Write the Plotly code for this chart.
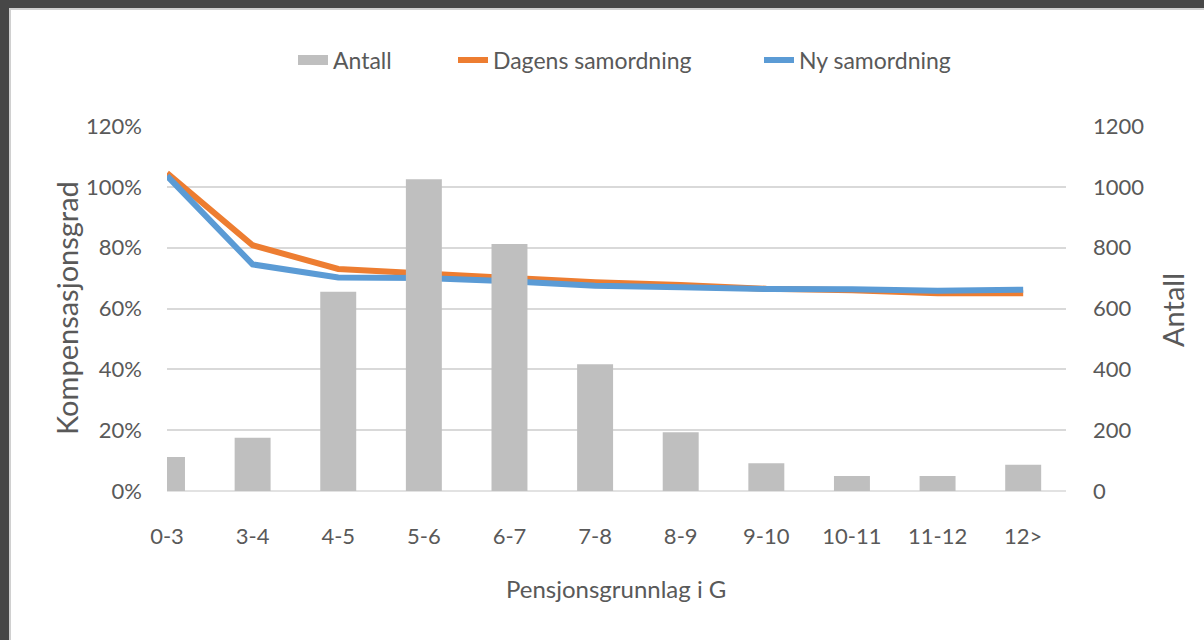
import plotly.graph_objects as go

categories = ["0-3", "3-4", "4-5", "5-6", "6-7", "7-8", "8-9", "9-10", "10-11", "11-12", "12>"]
antall = [112, 175, 655, 1025, 812, 417, 193, 91, 49, 49, 86]
dagens = [1.045, 0.808, 0.730, 0.716, 0.703, 0.686, 0.677, 0.665, 0.660, 0.650, 0.650]
ny = [1.036, 0.745, 0.702, 0.700, 0.690, 0.675, 0.670, 0.664, 0.663, 0.658, 0.662]
pct_ticks = [0, 0.2, 0.4, 0.6, 0.8, 1.0, 1.2]
pct_text = ["0%", "20%", "40%", "60%", "80%", "100%", "120%"]
cnt_ticks = [0, 200, 400, 600, 800, 1000, 1200]

W, H = 1204, 640
L, R, T, B = 167, 138, 126, 149
PW, PH = W - L - R, H - T - B

def px_x(p):
    return (p - L) / PW

def px_y(p):
    return (H - B - p) / PH

FONT = "Lato"
GREY = "#595959"
idx = list(range(len(categories)))

fig = go.Figure()
fig.add_trace(go.Bar(x=idx, y=antall, name="Antall", yaxis="y2", showlegend=False,
                     marker=dict(color="#BFBFBF", line=dict(width=0)), width=0.42))
# legend entry for the bars, drawn as a wide grey block like the original
fig.add_trace(go.Scatter(x=[None], y=[None], name="Antall", mode="lines", legend="legend",
                         line=dict(color="#BFBFBF", width=20)))
fig.add_trace(go.Scatter(x=idx, y=dagens, name="Dagens samordning", mode="lines",
                         legend="legend2", line=dict(color="#ED7D31", width=6)))
fig.add_trace(go.Scatter(x=idx, y=ny, name="Ny samordning", mode="lines",
                         legend="legend3", line=dict(color="#5B9BD5", width=6)))

def leg(text_start):
    return dict(orientation="h", x=px_x(text_start - 40), xanchor="left",
                y=px_y(60), yanchor="middle", font=dict(size=23, color=GREY),
                bgcolor="rgba(0,0,0,0)")

fig.update_layout(
    width=W, height=H,
    margin=dict(l=L, r=R, t=T, b=B),
    paper_bgcolor="white", plot_bgcolor="white",
    font=dict(family=FONT, color=GREY, size=22),
    showlegend=True,
    legend=leg(333), legend2=leg(493), legend3=leg(799),
    xaxis=dict(range=[0, 10.5], tickvals=idx, ticktext=categories, showgrid=False,
               zeroline=False, showline=False, ticks="", ticklabelstandoff=30,
               tickfont=dict(size=22, color=GREY)),
    yaxis=dict(range=[0, 1.2], tickvals=pct_ticks, ticktext=pct_text, showgrid=True,
               gridcolor="#D9D9D9", gridwidth=1.5, zeroline=False, showline=False,
               ticks="", ticklabelstandoff=24, tickfont=dict(size=22, color=GREY)),
    yaxis2=dict(range=[0, 1200], tickvals=cnt_ticks, overlaying="y", side="right",
                showgrid=False, zeroline=False, showline=False, ticks="",
                ticklabelstandoff=26, tickfont=dict(size=22, color=GREY)),
    annotations=[
        dict(text="Kompensasjonsgrad", x=px_x(66), y=px_y(308), xref="paper", yref="paper",
             showarrow=False, textangle=-90, font=dict(size=29, color=GREY),
             xanchor="center", yanchor="middle"),
        dict(text="Antall", x=px_x(1172), y=px_y(310), xref="paper", yref="paper",
             showarrow=False, textangle=-90, font=dict(size=29, color=GREY),
             xanchor="center", yanchor="middle"),
        dict(text="Pensjonsgrunnlag i G", x=px_x(616), y=px_y(588), xref="paper", yref="paper",
             showarrow=False, font=dict(size=24, color=GREY),
             xanchor="center", yanchor="middle"),
    ],
    shapes=[
        dict(type="rect", xref="paper", yref="paper", x0=px_x(0), x1=px_x(9),
             y0=px_y(640), y1=px_y(0), fillcolor="#474747", line=dict(width=0), layer="above"),
        dict(type="rect", xref="paper", yref="paper", x0=px_x(0), x1=px_x(1204),
             y0=px_y(8), y1=px_y(0), fillcolor="#474747", line=dict(width=0), layer="above"),
        dict(type="line", xref="paper", yref="paper", x0=px_x(10), x1=px_x(10),
             y0=px_y(640), y1=px_y(8), line=dict(color="#D0D0D0", width=2), layer="above"),
        dict(type="line", xref="paper", yref="paper", x0=px_x(9), x1=px_x(1204),
             y0=px_y(9), y1=px_y(9), line=dict(color="#D0D0D0", width=2), layer="above"),
        dict(type="line", xref="paper", yref="paper", x0=0, x1=1, y0=0, y1=0,
             line=dict(color="#D9D9D9", width=1.5), layer="below"),
    ],
)

fig.write_html("out.html", config={"displayModeBar": False},
               post_script="document.body.style.margin='0';document.body.style.overflow='hidden';")
